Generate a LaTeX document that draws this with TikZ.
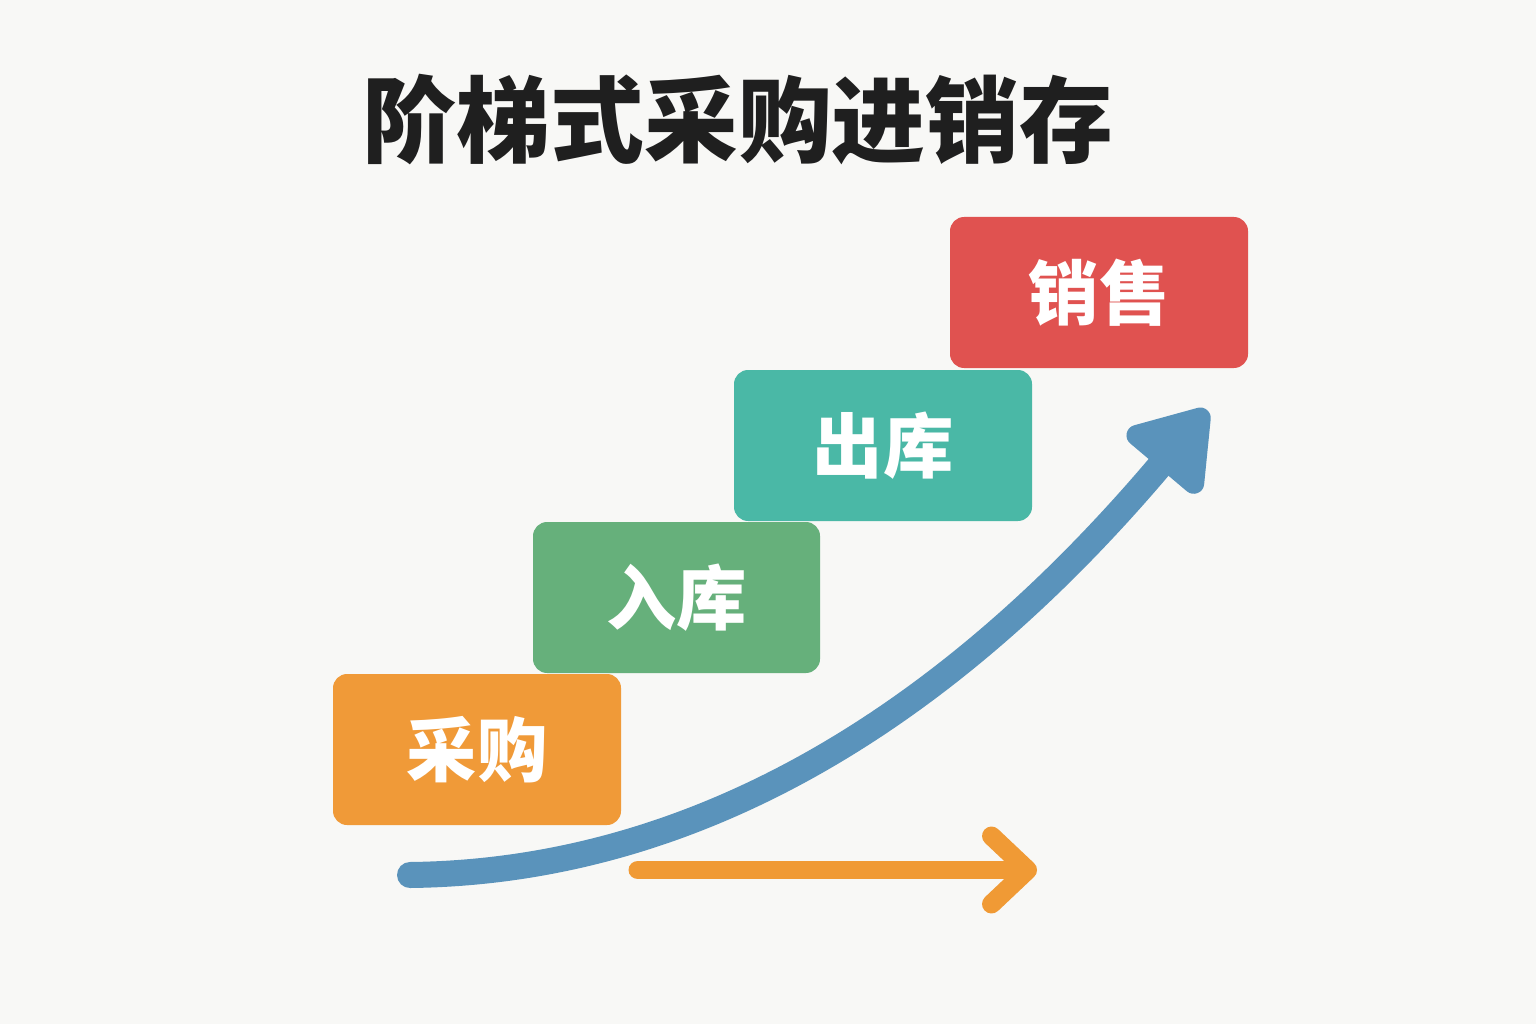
\documentclass[tikz,border=0pt]{standalone}
\usepackage{fontspec}
\newfontfamily\cjk{Noto Sans CJK SC}
\usetikzlibrary{arrows.meta,positioning}

\definecolor{bgcol}{HTML}{F8F8F6}
\definecolor{buyorange}{HTML}{F09A38}
\definecolor{ingreen}{HTML}{66B07B}
\definecolor{outteal}{HTML}{4AB8A6}
\definecolor{salered}{HTML}{E05250}
\definecolor{trendblue}{HTML}{5A93BB}
\definecolor{flowgold}{HTML}{F09A35}

\begin{document}
\begin{tikzpicture}[>=Stealth,
  stepbox/.style={rounded corners=4pt, minimum height=1.51cm, text=white, font=\cjk\bfseries\fontsize{20pt}{24pt}\selectfont}]
  \fill[bgcol] (0,0) rectangle (15.36,10.24);
  \node[font=\cjk\bfseries\fontsize{26.7pt}{32pt}\selectfont, text=black!88] (title) at (7.38,9.04) {阶梯式采购进销存};
  % the trend arrow sits under the steps
  \coordinate (trendstart) at (4.10,1.49);
  \coordinate (trendend) at (12.07,6.14);
  \draw[trendblue, line width=7.4pt, line cap=round, -{Triangle[round, length=8.4mm, width=10.8mm]}]
    (trendstart) .. controls (6.7,1.52) and (9.25,2.8) .. (trendend);
  \node[stepbox, fill=buyorange, minimum width=2.88cm] (buy) at (4.77,2.745) {采购};
  \node[stepbox, fill=ingreen, minimum width=2.87cm] (stockin) at (6.765,4.265) {入库};
  \node[stepbox, fill=outteal, minimum width=2.98cm] (stockout) at (8.83,5.785) {出库};
  \node[stepbox, fill=salered, minimum width=2.98cm] (sale) at (10.99,7.315) {销售};
  \coordinate (flowstart) at (6.38,1.54);
  \coordinate (flowend) at (10.37,1.54);
  \draw[flowgold, line width=5.4pt, line cap=round, -{Straight Barb[round, length=3.6mm, width=6.8mm]}] (flowstart) -- (flowend);
\end{tikzpicture}
\end{document}
